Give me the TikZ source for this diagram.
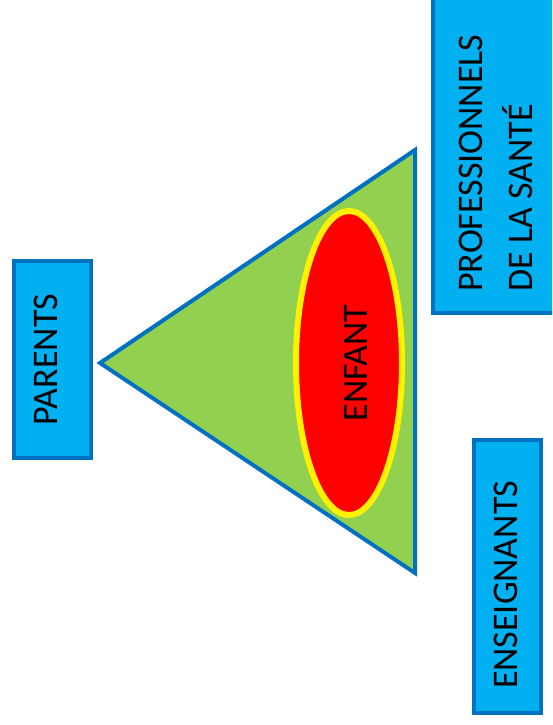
\documentclass[tikz,border=0pt]{standalone}
\usepackage{fontspec}
\setmainfont{Carlito}
\usetikzlibrary{shapes.geometric}
\definecolor{boxblue}{RGB}{0,112,192}
\definecolor{skyblue}{RGB}{0,176,240}
\definecolor{leafgreen}{RGB}{146,208,80}

\begin{document}
\begin{tikzpicture}[x=1pt,y=-1pt]
    \tikzstyle{role}=[rectangle,draw=boxblue,fill=skyblue,line width=4pt,rotate=90,inner sep=0pt,font=\fontsize{36}{50}\selectfont]
    \tikzstyle{caption}=[rotate=90,inner sep=0pt,align=left,font=\fontsize{36}{50}\selectfont]
    \tikzstyle{child}=[ellipse,draw=yellow,fill=red,line width=6pt,rotate=90,inner sep=0pt,font=\fontsize{36}{50}\selectfont]

    \clip (0,0) rectangle (552,725);

    \node(parents) [role,minimum width=197pt,minimum height=77pt,text depth=14pt] at (52.5,359.5) {PARENTS};
    \draw [draw=boxblue,fill=leafgreen,line width=4pt] (100,363) -- (415,150) -- (415,573) -- cycle;
    \node(enfant) [child,minimum width=304pt,minimum height=106pt,text height=37pt,text depth=0pt] at (349,363) {ENFANT};

    \node(sante) [role,minimum width=343pt,minimum height=125pt] at (495.5,141.5) {};
    \node(santeText) [caption,anchor=base west] at (532,292) {PROFESSIONNELS\\DE LA SANTÉ};

    \node(enseignants) [role,minimum width=273pt,minimum height=67pt] at (507.5,576.5) {};
    \node(enseignantsText) [caption] at (506,585) {ENSEIGNANTS};
\end{tikzpicture}
\end{document}
